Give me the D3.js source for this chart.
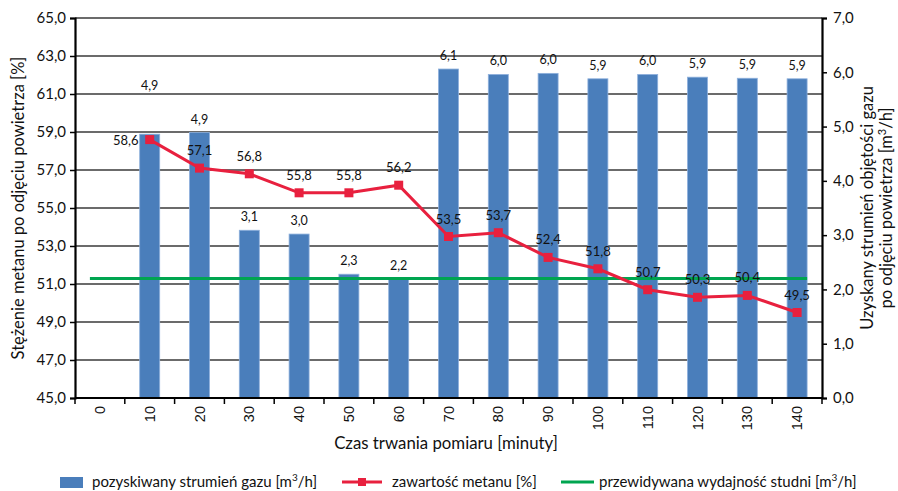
<!DOCTYPE html>
<html><head><meta charset="utf-8">
<script src="https://cdn.jsdelivr.net/npm/d3@7"></script>
<style>body{margin:0;background:#fff}svg{display:block;font-family:Lato,"Open Sans",sans-serif}</style>
</head><body><svg id="c" width="898" height="491"></svg>
<script>
const categories = [0,10,20,30,40,50,60,70,80,90,100,110,120,130,140];
const gasFlow = [null,4.86,4.89,3.09,3.02,2.28,2.19,6.06,5.96,5.98,5.88,5.96,5.91,5.89,5.88];
const methane = [null,58.6,57.1,56.8,55.8,55.8,56.2,53.5,53.7,52.4,51.8,50.7,50.3,50.4,49.5];
const expectedYield = 2.2;
const leftTicks = [45,47,49,51,53,55,57,59,61,63,65];
const rightTicks = [0,1,2,3,4,5,6,7];

const svg = d3.select("#c");
const L=75,R=822,T=18,B=398;
const fmt = v => v.toFixed(1).replace(".",",");
const x = d3.scaleBand().domain(categories).range([L,R]);
const yL = d3.scaleLinear().domain([45,65]).range([B,T]);
const yR = d3.scaleLinear().domain([0,7]).range([B,T]);
const cx = c => x(c)+x.bandwidth()/2;

// gridlines
svg.append("g").selectAll("line").data(leftTicks.slice(1)).join("line")
  .attr("x1",L).attr("x2",R).attr("y1",d=>yL(d)).attr("y2",d=>yL(d))
  .attr("stroke","#3a3a3a").attr("stroke-width",1.3);

// bars
const bw=20;
svg.append("g").selectAll("rect").data(categories.map((c,i)=>({c,v:gasFlow[i]})).filter(d=>d.v!=null)).join("rect")
  .attr("x",d=>cx(d.c)-bw/2).attr("width",bw).attr("y",d=>yR(d.v)).attr("height",d=>B-yR(d.v))
  .attr("fill","#4a7ebb").attr("stroke","#8eb0dc").attr("stroke-width",0.8);

// green line
svg.append("line").attr("x1",cx(0)-10).attr("x2",cx(140)+10).attr("y1",yR(expectedYield)).attr("y2",yR(expectedYield))
  .attr("stroke","#00a550").attr("stroke-width",3);

// red line
const md = categories.map((c,i)=>({c,v:methane[i]})).filter(d=>d.v!=null);
svg.append("path").datum(md).attr("d",d3.line().x(d=>cx(d.c)).y(d=>yL(d.v)))
  .attr("fill","none").attr("stroke","#e8203e").attr("stroke-width",3);
svg.append("g").selectAll("rect").data(md).join("rect")
  .attr("x",d=>cx(d.c)-4.5).attr("y",d=>yL(d.v)-4.5).attr("width",9).attr("height",9).attr("fill","#e8203e");

// bar labels
svg.append("g").selectAll("text").data(categories.map((c,i)=>({c,v:gasFlow[i]})).filter(d=>d.v!=null)).join("text")
  .attr("x",d=>cx(d.c)).attr("y",d=>d.c===10?yR(d.v)-44:yR(d.v)-9)
  .attr("text-anchor","middle").attr("font-size",12.5).attr("fill","#111").text(d=>fmt(d.v));

// line labels
svg.append("g").selectAll("text").data(md).join("text")
  .attr("x",d=>d.c===10?cx(d.c)-24:cx(d.c)).attr("y",d=>d.c===10?yL(d.v)+5:yL(d.v)-13)
  .attr("text-anchor","middle").attr("font-size",13).attr("fill","#111").text(d=>fmt(d.v));

// axes
const axL = svg.append("g").attr("transform",`translate(${L},0)`)
  .call(d3.axisLeft(yL).tickValues(leftTicks).tickFormat(fmt).tickSize(5).tickPadding(4));
const axR = svg.append("g").attr("transform",`translate(${R},0)`)
  .call(d3.axisRight(yR).tickValues(rightTicks).tickFormat(fmt).tickSize(5).tickPadding(6));
[axL,axR].forEach(a=>{a.select(".domain").attr("stroke","#000").attr("stroke-width",2.2);
  a.selectAll(".tick line").attr("stroke","#000").attr("stroke-width",1.5);
  a.selectAll("text").attr("font-size",15).attr("fill","#111").attr("font-family","Lato,sans-serif");});

const axB = svg.append("g").attr("transform",`translate(0,${B})`)
  .call(d3.axisBottom(x).tickSize(0).tickPadding(0));
axB.select(".domain").remove();
axB.append("line").attr("x1",L).attr("x2",R).attr("stroke","#000").attr("stroke-width",2.2);
axB.selectAll(".tick text").attr("transform","rotate(-90)").attr("x",-8).attr("y",0).attr("dy","0.35em")
  .attr("text-anchor","end").attr("font-size",14.5).attr("fill","#111");
axB.selectAll("line.sep").data(d3.range(categories.length+1)).join("line").attr("class","sep")
  .attr("x1",i=>L+i*x.bandwidth()).attr("x2",i=>L+i*x.bandwidth()).attr("y1",0).attr("y2",6)
  .attr("stroke","#000").attr("stroke-width",1.5);

// titles
svg.append("text").attr("transform",`translate(24,208) rotate(-90)`).attr("text-anchor","middle")
  .attr("font-size",16.5).attr("fill","#111").text("Stężenie metanu po odjęciu powietrza [%]");
const rt = svg.append("text").attr("transform",`translate(873,208) rotate(-90)`).attr("text-anchor","middle")
  .attr("font-size",16.5).attr("fill","#111");
rt.append("tspan").attr("x",0).attr("dy",0).text("Uzyskany strumień objętości gazu");
const t2 = rt.append("tspan").attr("x",0).attr("dy",19);
t2.append("tspan").text("po odjęciu powietrza [m");
t2.append("tspan").attr("baseline-shift","super").attr("font-size",11).text("3");
t2.append("tspan").text("/h]");
svg.append("text").attr("x",446).attr("y",449).attr("text-anchor","middle").attr("font-size",16.8)
  .attr("fill","#111").text("Czas trwania pomiaru [minuty]");

// legend
const lg = svg.append("g").attr("font-size",15).attr("fill","#111");
lg.append("rect").attr("x",60).attr("y",477).attr("width",23).attr("height",11).attr("fill","#4a7ebb");
const lt1 = lg.append("text").attr("x",92).attr("y",487);
lt1.append("tspan").text("pozyskiwany strumień gazu [m");
lt1.append("tspan").attr("baseline-shift","super").attr("font-size",10).text("3");
lt1.append("tspan").text("/h]");
lg.append("line").attr("x1",342).attr("x2",382).attr("y1",482).attr("y2",482).attr("stroke","#e8203e").attr("stroke-width",3);
lg.append("rect").attr("x",358).attr("y",478).attr("width",8).attr("height",8).attr("fill","#e8203e");
lg.append("text").attr("x",392).attr("y",487).text("zawartość metanu [%]");
lg.append("line").attr("x1",561).attr("x2",594).attr("y1",482).attr("y2",482).attr("stroke","#00a550").attr("stroke-width",3);
const lt3 = lg.append("text").attr("x",599).attr("y",487);
lt3.append("tspan").text("przewidywana wydajność studni [m");
lt3.append("tspan").attr("baseline-shift","super").attr("font-size",10).text("3");
lt3.append("tspan").text("/h]");
</script></body></html>
